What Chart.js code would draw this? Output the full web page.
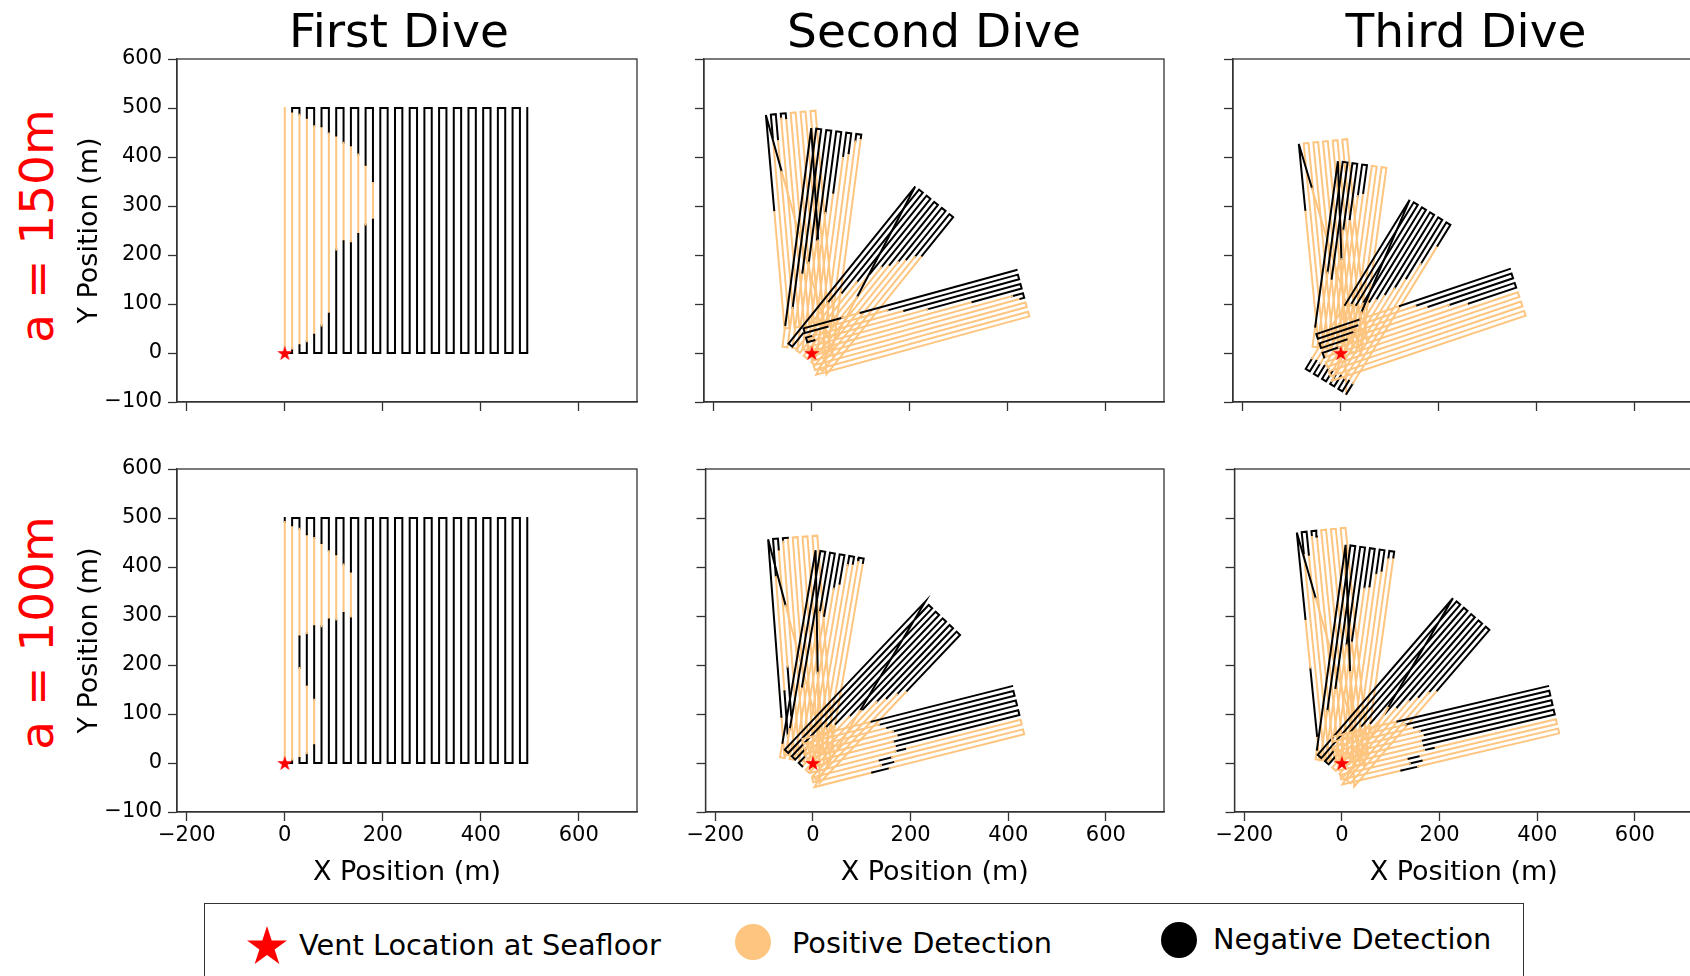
<!DOCTYPE html>
<html>
<head>
<meta charset="utf-8">
<script src="https://cdn.jsdelivr.net/npm/chart.js@4.4.1/dist/chart.umd.min.js"></script>
<style>
  html, body { margin: 0; padding: 0; background: #fff; }
  body { position: relative; width: 1690px; height: 976px; overflow: hidden; font-family: "DejaVu Sans", sans-serif; }
  canvas.panel { position: absolute; }
  .dive-title { position: absolute; top: 7px; width: 400px; margin-left: -200px; text-align: center; font-size: 47px; line-height: 47px; color: #000; white-space: nowrap; }
  .plume-label { position: absolute; font-size: 47px; line-height: 47px; color: #ff0000; white-space: nowrap; transform: translate(-50%, -50%) rotate(-90deg); }
  #legend { position: absolute; left: 204px; top: 903px; width: 1320px; height: 120px; border: 1.6px solid #333; box-sizing: border-box; }
  .lg-text { position: absolute; font-size: 28.8px; line-height: 29px; color: #000; white-space: nowrap; }
  .lg-dot { position: absolute; width: 36px; height: 36px; border-radius: 50%; }
</style>
</head>
<body>
<div id="legend"></div>
<script>
// ---- axes ----
const xRange = [-220, 719];
const yRange = [-100, 600];
const xStep = 200;
const yStep = 100;
const diveTitles = ['First Dive', 'Second Dive', 'Third Dive'];
const plumeLabels = ['a = 150m', 'a = 100m'];
const legendLabels = ['Vent Location at Seafloor', 'Positive Detection', 'Negative Detection'];
const vent = [0, 0];

// ---- first dive: 34 north-south lines, 15 m apart, y 0..500 ----
const firstAcross = [0, -495];
const firstAlong = [0, 500];
// positive stretches (y, m) on each line
const firstHits150 = [
  [[0, 500]], [[9, 493]], [[16, 486]], [[24, 480]], [[37, 463]], [[56, 463]], [[80, 448]],
  [[211, 444]], [[228, 429]], [[228, 424]], [[243, 405]], [[262, 384]], [[272, 347]],
  [], [], [], [], [], [], [], [], [], [], [], [], [], [], [], [], [], [], [], [], []
];
const firstHits100 = [
  [[3, 492]], [[7, 485]], [[10, 194], [258, 478]], [[20, 160], [265, 467]], [[36, 129], [279, 459]],
  [[279, 449]], [[293, 432]], [[293, 426]], [[306, 405]], [[299, 391]],
  [], [], [], [], [], [], [], [], [], [], [], [], [], [], [], [], [], [], [], [], [], [], [], []
];

// ---- second / third dives: four 11-line boxes fanned out from the vent ----
// heading (deg), across-track offsets of first/last line, along-track near/far ends,
// positive stretches along each line, positive stretches on the legs between boxes
const dive2Heading150 = [95, 82.5, 51.1, 15.3];
const dive2Across150 = [[51, -50.5], [61, -42], [49, -50.5], [53, -45]];
const dive2Along150 = [[55, 492], [5, 455], [-15, 397], [-3, 448]];
const dive2Hits150 = [
  [[[55, 297]], [[55, 441]], [[55, 441]], [[55, 482]], [[55, 482]], [[55, 492]], [[55, 492]], [[55, 492]], [[55, 492]], [[55, 492]], [[55, 492]]],
  [[[5, 50]], [[5, 86]], [[5, 160]], [[5, 182]], [[5, 231]], [[5, 287]], [[5, 330]], [[5, 403]], [[5, 414]], [[5, 440]], [[5, 448]]],
  [[], [[20, 100]], [[-15, 135]], [[-15, 170]], [[-15, 201]], [[-15, 225]], [[-15, 240]], [[-15, 255]], [[-15, 270]], [[-15, 285]], [[-15, 296]]],
  [[[79, 118]], [[45, 172]], [[12, 205]], [[12, 251]], [[-3, 344]], [[-3, 425]], [[-3, 440]], [[-3, 448]], [[-3, 448]], [[-3, 448]], [[-3, 448]]]
];
const dive2Legs150 = [[[120, 9999]], [[230, 9999]], [[255, 9999]]];

const dive3Heading150 = [95.6, 82.2, 58.4, 18.6];
const dive3Across150 = [[43.6, -55.5], [59, -41], [44, -53.6], [52.5, -48]];
const dive3Along150 = [[20, 433], [5, 387], [-65, 340], [-35, 382]];
const dive3Hits150 = [
  [[[20, 298]], [[20, 433]], [[20, 433]], [[20, 433]], [[20, 433]], [[20, 433]], [[20, 433]], [[20, 433]], [[20, 433]], [[20, 433]], [[20, 433]]],
  [[[5, 46]], [[5, 159]], [[5, 148]], [[5, 248]], [[5, 273]], [[5, 322]], [[5, 330]], [[5, 387]], [[5, 387]], [[5, 387]], [[5, 387]]],
  [[[-40, 88]], [[-40, 95]], [[-40, 100]], [[-40, 110]], [[-40, 120]], [[-40, 130]], [[-40, 150]], [[-40, 170]], [[-40, 200]], [[-40, 240]], [[-40, 290]]],
  [[[60, 145]], [[50, 175]], [[40, 200]], [[20, 240]], [[0, 280]], [[-35, 382]], [[-35, 382]], [[-35, 382]], [[-35, 382]], [[-35, 382]], [[-35, 382]]]
];
const dive3Legs150 = [[[95, 9999]], [[200, 9999]], [[250, 9999]]];

const dive2Heading100 = [94.3, 80.2, 46.4, 14.1];
const dive2Across100 = [[57.3, -43.8], [68.5, -31.4], [60.5, -38], [52.7, -48.4]];
const dive2Along100 = [[20, 462], [0, 429], [-20, 397], [-9, 434]];
const dive2Hits100 = [
  [[[20, 99]], [[20, 60], [150, 384]], [[20, 100], [200, 440]], [[20, 455]], [[20, 462]], [[20, 462]], [[20, 462]], [[20, 462]], [[20, 462]], [[20, 462]], [[20, 462]]],
  [[[0, 30]], [[0, 60]], [[0, 150]], [[0, 306]], [[0, 300]], [[0, 358]], [[0, 370]], [[0, 410]], [[0, 415]], [[0, 420]], [[0, 420]]],
  [[], [], [], [[10, 70]], [[0, 90]], [[-20, 120]], [[-20, 150]], [[-20, 180]], [[-20, 200]], [[-20, 220]], [[-20, 240]]],
  [[[-9, 137]], [[-9, 150]], [[-9, 165]], [[-9, 175]], [[-9, 184]], [[-9, 170]], [[-9, 175]], [[-9, 170], [190, 434]], [[-9, 134], [160, 434]], [[-9, 134], [160, 434]], [[-9, 113], [150, 434]]]
];
const dive2Legs100 = [[[140, 9999]], [[250, 9999]], [[260, 9999]]];

const dive3Heading100 = [95.7, 82, 49.1, 13.2];
const dive3Across100 = [[45.2, -55], [54.5, -46], [48.3, -50.5], [56.4, -42.7]];
const dive3Along100 = [[10, 477], [0, 442], [-20, 403], [-9, 447]];
const dive3Hits100 = [
  [[[10, 60], [200, 300]], [[10, 430]], [[10, 430]], [[10, 465]], [[10, 465]], [[10, 477]], [[10, 477]], [[10, 477]], [[10, 477]], [[10, 477]], [[10, 477]]],
  [[[0, 20]], [[0, 101]], [[0, 150]], [[0, 239]], [[0, 250]], [[0, 359]], [[0, 365]], [[0, 390]], [[0, 400]], [[0, 425]], [[0, 430]]],
  [[], [], [[10, 60]], [[0, 80]], [[-20, 100]], [[-20, 130]], [[-20, 160]], [[-20, 185]], [[-20, 205]], [[-20, 225]], [[-20, 240]]],
  [[[-9, 130]], [[-9, 145]], [[-9, 160]], [[-9, 170]], [[-9, 178]], [[-9, 168]], [[-9, 172]], [[-9, 170], [190, 447]], [[-9, 135], [160, 447]], [[-9, 135], [160, 447]], [[-9, 115], [150, 447]]]
];
const dive3Legs100 = [[[140, 9999]], [[260, 9999]], [[260, 9999]]];

// ---- styling ----
const ORANGE = '#fdc57f';
const BLACK = '#000000';
const FONT = 'DejaVu Sans';
Chart.defaults.font.family = FONT;

// lawnmower box: lines run along `heading`, stepped across from across[0] to across[1]
function sweep(heading, across, along, hits, fromLast, firstOut) {
  const th = heading * Math.PI / 180;
  const ux = Math.cos(th), uy = Math.sin(th);
  const nx = -uy, ny = ux;
  const count = hits.length;
  const order = [];
  for (let i = 0; i < count; i++) order.push(fromLast ? count - 1 - i : i);
  const inHit = (k, s) => hits[k].some(([a, b]) => s >= a && s <= b);
  const pts = [];
  order.forEach((k, i) => {
    const n = across[0] + (across[1] - across[0]) * k / (count - 1);
    const out = (i % 2 === 0) === firstOut;
    let stops = [along[0], along[1]];
    hits[k].forEach(([a, b]) => stops.push(a, b));
    stops = [...new Set(stops.filter(s => s >= along[0] && s <= along[1]))].sort((a, b) => a - b);
    if (!out) stops.reverse();
    stops.forEach((s, j) => {
      let pos;
      if (j === 0) {
        // turn from the previous line stays orange only when both ends are positive
        pos = i > 0 && inHit(order[i - 1], s) && inHit(k, s);
      } else {
        pos = inHit(k, (s + stops[j - 1]) / 2);
      }
      pts.push({ x: ux * s + nx * n, y: uy * s + ny * n, pos });
    });
  });
  return pts;
}

// straight leg from p to q, split where the detection changes
function leg(p, q, hits) {
  const L = Math.hypot(q.x - p.x, q.y - p.y);
  let stops = [0, L];
  hits.forEach(([a, b]) => stops.push(a, b));
  stops = [...new Set(stops.filter(s => s >= 0 && s <= L))].sort((a, b) => a - b);
  const inHit = s => hits.some(([a, b]) => s >= a && s <= b);
  const pts = [];
  for (let j = 1; j < stops.length; j++) {
    const t = stops[j] / L;
    pts.push({ x: p.x + (q.x - p.x) * t, y: p.y + (q.y - p.y) * t, pos: inHit((stops[j] + stops[j - 1]) / 2) });
  }
  return pts;
}

function fan(headings, across, along, hits, legs) {
  let path = [];
  headings.forEach((h, i) => {
    const pts = sweep(h, across[i], along[i], hits[i], true, true);
    if (path.length) {
      const l = leg(path[path.length - 1], pts[0], legs[i - 1]);
      pts[0].pos = l[l.length - 1].pos;
      l.pop();
      path = path.concat(l);
    }
    path = path.concat(pts);
  });
  return path;
}

function starImage(r, color) {
  const c = document.createElement('canvas');
  const size = Math.ceil(2 * r + 2);
  c.width = c.height = size;
  const g = c.getContext('2d');
  g.fillStyle = color;
  g.beginPath();
  for (let i = 0; i < 10; i++) {
    const rr = i % 2 ? r * 0.382 : r;
    const a = -Math.PI / 2 + i * Math.PI / 5;
    g.lineTo(size / 2 + rr * Math.cos(a), size / 2 + rr * Math.sin(a) + r * 0.1);
  }
  g.closePath();
  g.fill();
  return c;
}

const frame = {
  id: 'frame',
  afterDatasetsDraw(chart) {
    const { ctx, chartArea: a } = chart;
    ctx.save();
    ctx.strokeStyle = '#333';
    ctx.lineWidth = 1.3;
    ctx.strokeRect(a.left, a.top, a.right - a.left, a.bottom - a.top);
    ctx.restore();
  }
};

const minus = v => (v < 0 ? '\u2212' + (-v) : String(v));

// ---- layout ----
const plotLeft = [177, 704, 1233];
const plotTop = [59, 469];
const plotW = 460, plotH = 343;
const titleX = [399, 934, 1466];
const labelY = [226, 633];

const panels = [
  { row: 0, col: 0, path: sweep(90, firstAcross, firstAlong, firstHits150, false, false) },
  { row: 0, col: 1, path: fan(dive2Heading150, dive2Across150, dive2Along150, dive2Hits150, dive2Legs150) },
  { row: 0, col: 2, path: fan(dive3Heading150, dive3Across150, dive3Along150, dive3Hits150, dive3Legs150) },
  { row: 1, col: 0, path: sweep(90, firstAcross, firstAlong, firstHits100, false, false) },
  { row: 1, col: 1, path: fan(dive2Heading100, dive2Across100, dive2Along100, dive2Hits100, dive2Legs100) },
  { row: 1, col: 2, path: fan(dive3Heading100, dive3Across100, dive3Along100, dive3Hits100, dive3Legs100) }
];

const ventStar = starImage(8, '#ff0000');

panels.forEach(p => {
  const lpad = p.col === 0 ? 103 : 20;
  const tpad = 28, rpad = 15;
  const bpad = p.row === 1 ? 77 : 24;
  const canvas = document.createElement('canvas');
  canvas.className = 'panel';
  const w = plotW + lpad + rpad, h = plotH + tpad + bpad;
  canvas.width = w; canvas.height = h;
  canvas.style.width = w + 'px'; canvas.style.height = h + 'px';
  canvas.style.left = (plotLeft[p.col] - lpad) + 'px';
  canvas.style.top = (plotTop[p.row] - tpad) + 'px';
  document.body.appendChild(canvas);

  const path = p.path;
  new Chart(canvas, {
    type: 'scatter',
    data: {
      datasets: [
        { data: [{ x: vent[0], y: vent[1] }], pointStyle: ventStar, pointRadius: 8, order: 0 },
        {
          data: path, showLine: true, pointRadius: 0, borderWidth: 2, borderColor: BLACK,
          borderCapStyle: 'square', borderJoinStyle: 'miter',
          segment: { borderColor: c => (path[c.p1DataIndex].pos ? ORANGE : BLACK) },
          order: 1
        }
      ]
    },
    options: {
      responsive: false,
      animation: false,
      events: [],
      layout: { padding: { left: 0, top: tpad, right: rpad, bottom: 0 } },
      plugins: { legend: { display: false }, tooltip: { enabled: false } },
      scales: {
        x: {
          type: 'linear', min: xRange[0], max: xRange[1],
          afterFit: s => { s.height = bpad; },
          ticks: { display: p.row === 1, stepSize: xStep, includeBounds: false, padding: 2, maxRotation: 0, autoSkip: false,
                   font: { size: 21 }, color: '#000', callback: minus },
          grid: { drawOnChartArea: false, drawTicks: true, tickLength: 9, tickWidth: 1.3, tickColor: '#333' },
          border: { display: true, color: '#333', width: 1.3 },
          title: { display: p.row === 1, text: 'X Position (m)', font: { size: 27 }, color: '#000', padding: 0 }
        },
        y: {
          type: 'linear', min: yRange[0], max: yRange[1],
          afterFit: s => { s.width = lpad; },
          ticks: { display: p.col === 0, stepSize: yStep, includeBounds: false, padding: 6, autoSkip: false,
                   font: { size: 21 }, color: '#000', callback: minus },
          grid: { drawOnChartArea: false, drawTicks: true, tickLength: 9, tickWidth: 1.3, tickColor: '#333' },
          border: { display: true, color: '#333', width: 1.3 },
          title: { display: p.col === 0, text: 'Y Position (m)', font: { size: 27 }, color: '#000', padding: 0 }
        }
      }
    },
    plugins: [frame]
  });
});

diveTitles.forEach((t, i) => {
  const d = document.createElement('div');
  d.className = 'dive-title';
  d.style.left = titleX[i] + 'px';
  d.textContent = t;
  document.body.appendChild(d);
});

plumeLabels.forEach((t, i) => {
  const d = document.createElement('div');
  d.className = 'plume-label';
  d.style.left = '36px';
  d.style.top = labelY[i] + 'px';
  d.textContent = t;
  document.body.appendChild(d);
});

// ---- legend ----
const legend = document.getElementById('legend');
const lgStar = starImage(21, '#ff0000');
lgStar.style.position = 'absolute';
lgStar.style.left = (266 - 204 - lgStar.width / 2) + 'px';
lgStar.style.top = (944 - 903 - lgStar.height / 2) + 'px';
legend.appendChild(lgStar);

const dots = [[752, 941, ORANGE], [1178, 939, BLACK]];
dots.forEach(([cx, cy, col]) => {
  const d = document.createElement('div');
  d.className = 'lg-dot';
  d.style.left = (cx - 204 - 18) + 'px';
  d.style.top = (cy - 903 - 18) + 'px';
  d.style.background = col;
  legend.appendChild(d);
});

const textPos = [[298, 930], [791, 928], [1212, 924]];
legendLabels.forEach((t, i) => {
  const d = document.createElement('div');
  d.className = 'lg-text';
  d.style.left = (textPos[i][0] - 204) + 'px';
  d.style.top = (textPos[i][1] - 903) + 'px';
  d.textContent = t;
  legend.appendChild(d);
});
</script>
</body>
</html>
